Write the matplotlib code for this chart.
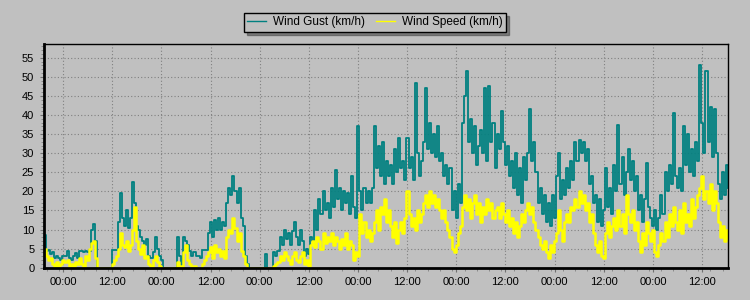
import matplotlib
matplotlib.use('Agg')
import numpy as np
import pandas as pd
import matplotlib.pyplot as plt
import matplotlib.dates as mdates
from matplotlib.ticker import MultipleLocator

plt.rcParams['font.family'] = ['Liberation Sans', 'DejaVu Sans']

# readings every 30 minutes, first one at 19:20
start = '2012-03-04 19:20'

gust = [
    8.5, 4.5, 4.7, 3.5, 4, 2.5, 3, 2.5, 2, 3,
    3, 4.5, 2.5, 2, 3, 3.8, 2.5, 4.5, 4.5, 4,
    4.5, 4, 4.5, 10, 11.5, 7, 0, 0, 0, 0,
    0, 0, 0, 4.6, 4.6, 4.6, 12, 19.5, 13, 11,
    15, 10.5, 13, 22.5, 17, 11, 10, 8, 7, 6,
    7.5, 3, 2.5, 4, 8, 5, 3, 2, 0, 0,
    0, 0, 0, 0, 0, 8, 3, 0, 8, 7,
    6, 4.5, 3, 4, 3, 3, 2.5, 4.6, 4.6, 4.6,
    9, 12, 8, 12.5, 10, 13, 10, 12, 11, 17,
    21, 19, 24, 20, 17, 21, 13, 11, 3, 1,
    0, 0, 0, 0, 0, 0, 0, 0, 3.5, 0,
    0, 0, 4, 3, 4.5, 8, 6, 10, 7.5, 9,
    6, 9.5, 12, 8, 6, 10, 7, 3, 5, 3.5,
    8, 7, 15, 10, 18, 14, 20, 15, 17, 13,
    21, 16, 25.5, 18, 21, 15, 20, 17, 19.5, 14,
    24, 16, 13, 37, 20, 15, 21, 17, 20, 17,
    21, 37, 26, 32, 24, 33, 22, 28, 24, 27,
    22, 31, 25, 34, 26, 28, 23, 34, 26, 29,
    23, 48.5, 30, 24, 28, 33, 47, 31, 38, 30,
    35, 29, 37, 28, 30, 24, 27, 22, 26, 15,
    20, 13, 22, 17, 38, 45, 51.5, 33, 39, 30,
    37, 27, 32, 36, 30, 47, 28, 47.5, 33, 38,
    26, 35, 31, 41, 33, 27, 32, 24, 28, 21,
    30, 19, 26, 17, 29, 23, 30, 41.5, 28, 33,
    25, 17, 21, 14, 19, 12, 17, 11, 19, 13,
    24, 30, 18, 23, 19, 26, 21, 28, 23, 33,
    28, 33.5, 30, 33, 28, 31, 22, 24, 17, 19,
    12, 18, 11, 15, 26, 16, 21, 14, 27, 20,
    37.5, 22, 29, 19, 25, 31, 23, 28, 20, 24,
    15, 19, 12, 18, 27.5, 16, 13, 11, 15, 10,
    13, 19, 14, 25, 20, 27, 22, 40.5, 24, 21,
    26, 20, 37, 27, 35, 25, 31, 24, 33, 28,
    53, 38, 30, 51.5, 33, 42, 29, 41.5, 30, 22,
    18, 25, 19, 27, 21,
]

speed = [
    5, 3, 2, 2.5, 1, 0, 1.5, 0.5, 1, 2,
    1.5, 2, 0.5, 1, 0, 1.5, 1, 2.5, 1, 0,
    3, 2, 5, 6.5, 7, 2.5, 0, 0, 0, 0,
    0, 0, 0, 1, 2, 3, 5, 9, 6, 5.5,
    7, 4.5, 6, 10, 15.8, 7, 5, 3.5, 6, 2.5,
    3, 1, 0.5, 2, 3, 1.5, 0.5, 0, 0, 0,
    0, 0, 0, 0, 0, 1.5, 0.5, 0, 4, 6,
    2, 1, 0, 0.5, 0, 0, 0, 1, 2, 3,
    4, 5.5, 2.5, 6, 4, 5, 3, 4.5, 2.5, 8,
    10, 9, 13, 10.5, 7, 9, 4.5, 3, 1, 0,
    0, 0, 0, 0, 0, 0, 0, 0, 0, 0,
    0, 0, 0.5, 1, 1.5, 3, 2, 4, 3, 2,
    1, 3, 4, 2, 1.5, 3, 4, 1, 2, 0.5,
    6, 7, 5.5, 8, 7, 5, 9, 6.5, 8, 7,
    9, 6, 8, 7, 5, 7.5, 6, 9, 5, 7,
    6, 2, 4, 3, 14, 9, 12, 8, 10, 7,
    9, 12, 15, 10, 16, 14, 18, 12, 15, 11,
    8, 12, 6.5, 10, 12, 9, 13, 20, 14, 11,
    13, 10, 15, 12, 14, 17, 19, 16, 20, 17,
    19, 16, 18, 15, 13, 15, 12, 10, 8, 5,
    4, 6, 9, 11, 16, 19, 15, 18, 13, 17,
    19, 14, 17, 12, 16, 14, 18, 15, 17, 13,
    15, 16, 13, 17, 14, 12, 15, 11, 13, 9,
    12, 8, 11, 14, 12, 15, 17, 14, 16, 12,
    10, 8, 6, 5, 7, 4, 2.5, 6, 4, 7,
    9, 15, 10, 7, 12, 14, 12, 16, 15, 18,
    16, 20, 17, 19, 15, 17, 12, 14, 9, 6,
    4, 7, 3, 2.5, 9, 12, 8, 11, 13, 10,
    15, 11, 14, 9, 19, 14, 12, 15, 10, 12,
    7, 4, 9, 6, 12, 9, 7, 10, 4, 3,
    6, 9, 7, 12, 8, 14, 11, 16, 12, 10,
    15, 9, 17, 12, 14, 11, 18, 13, 16, 19,
    21, 24, 18, 20, 17, 22, 15, 20, 17, 12,
    8, 11, 7, 10, 8,
]

times = pd.date_range(start, periods=len(gust), freq='30min')

fig = plt.figure(figsize=(7.5, 3), dpi=100, facecolor='#c0c0c0')
ax = fig.add_axes([44 / 750, 1 - 267.7 / 300, 684 / 750, 223.7 / 300])
ax.set_facecolor('#c0c0c0')

ax.plot(times, gust, color='#008080', lw=1.3, drawstyle='steps-post',
        label='Wind Gust (km/h)')
ax.plot(times, speed, color='#ffff00', lw=1.8, drawstyle='steps-post',
        label='Wind Speed (km/h)')

ax.set_xlim(times[0], times[-1])
ax.set_ylim(0, 58.6)

ax.yaxis.set_major_locator(MultipleLocator(5))
ax.yaxis.set_minor_locator(MultipleLocator(1))
ax.xaxis.set_major_locator(mdates.HourLocator(byhour=[0, 12]))
ax.xaxis.set_major_formatter(mdates.DateFormatter('%H:%M'))
ax.xaxis.set_minor_locator(mdates.HourLocator(interval=3))

ax.grid(True, which='major', color='#808080', linestyle=(0, (1, 2)), lw=0.8)
ax.tick_params(axis='both', which='major', labelsize=8, length=3, width=0.8,
               color='#707070', pad=4)
ax.tick_params(axis='both', which='minor', length=2, width=0.6, color='#808080')

for side in ['left', 'bottom']:
    ax.spines[side].set_linewidth(2)
for side in ['top', 'right']:
    ax.spines[side].set_linewidth(1)
for s in ax.spines.values():
    s.set_color('black')

leg = fig.legend(loc='center', bbox_to_anchor=(375 / 750, 1 - 22.5 / 300), ncol=2,
                 frameon=True, fancybox=False, shadow=True, fontsize=8.5,
                 handlelength=1.6, handletextpad=0.6, columnspacing=0.9,
                 borderpad=0.3, borderaxespad=0)
leg.get_frame().set_edgecolor('black')
leg.get_frame().set_facecolor('#c0c0c0')
leg.get_frame().set_linewidth(1)
for line in leg.get_lines():
    line.set_linewidth(1)

fig.savefig('out.png', dpi=100, facecolor=fig.get_facecolor())
